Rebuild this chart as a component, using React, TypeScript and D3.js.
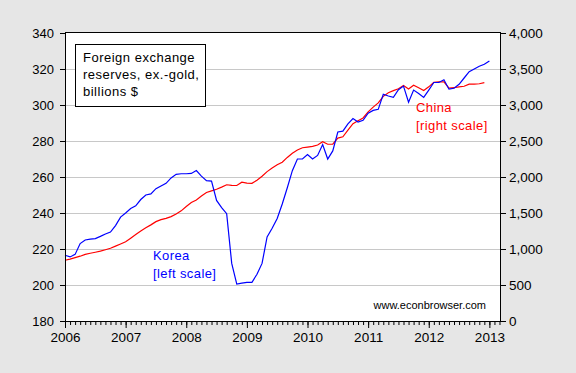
import { useEffect, useRef } from 'react';
import * as d3 from 'd3';

// monthly data, starting 2006M01
const START_YEAR = 2006;

// Korea FX reserves ex-gold, billions $ (left scale)
const korea = [
  216.5, 215.6, 217.0, 223.0, 225.0, 225.5, 225.8, 227.0, 228.3, 229.4, 233.0, 237.7,
  240.0, 242.5, 244.0, 247.5, 250.0, 250.6, 253.5, 255.0, 256.5, 259.5, 261.5, 261.8,
  261.8, 262.0, 263.6, 260.5, 258.0, 257.7, 247.0, 243.0, 239.6, 212.0, 200.5, 201.0,
  201.5, 201.5, 206.0, 212.0, 226.7, 231.5, 237.0, 245.0, 254.0, 263.5, 270.0, 270.0,
  272.5, 270.0, 272.0, 278.0, 270.0, 274.5, 285.0, 285.5, 289.5, 292.5, 290.5, 291.5,
  295.5, 297.0, 297.6, 306.0, 305.0, 304.3, 308.5, 310.5, 301.5, 308.3, 306.4, 304.2,
  308.3, 312.5, 312.5, 314.0, 308.8, 309.3, 311.5, 315.0, 318.5, 320.0, 321.5, 322.6,
  324.5,
];

// China FX reserves ex-gold, billions $ (right scale)
const china = [
  844, 860, 880, 900, 925, 941, 955, 970, 990, 1010, 1040, 1070,
  1100, 1150, 1200, 1250, 1295, 1335, 1380, 1408, 1425, 1450, 1485, 1530,
  1590, 1645, 1680, 1735, 1785, 1808, 1830, 1860, 1892, 1885, 1882, 1928,
  1914, 1912, 1955, 2010, 2075, 2125, 2170, 2205, 2272, 2330, 2375, 2406,
  2416, 2426, 2445, 2490, 2455, 2456, 2540, 2558, 2650, 2740, 2782, 2820,
  2905, 2970, 3030, 3120, 3170, 3200, 3225, 3272, 3222, 3275, 3240, 3200,
  3252, 3315, 3322, 3322, 3235, 3240, 3252, 3260, 3290, 3290, 3295, 3310,
];

const leftTicks = [180, 200, 220, 240, 260, 280, 300, 320, 340];
const rightTicks = [0, 500, 1000, 1500, 2000, 2500, 3000, 3500, 4000];
const yearLabels = [2006, 2007, 2008, 2009, 2010, 2011, 2012, 2013];
const legendLines = ['Foreign exchange', 'reserves, ex.-gold,', 'billions $'];

const FONT = '"Liberation Sans", Arial, sans-serif';

export default function App() {
  const svgRef = useRef<SVGSVGElement>(null);

  useEffect(() => {
    if (!svgRef.current) return;
    const svg = d3.select(svgRef.current);
    svg.selectAll('*').remove();

    const left = 65;
    const right = 500;
    const top = 33;
    const bottom = 321;

    const x = d3.scaleLinear().domain([0, 86.1]).range([left, right]);
    const yL = d3.scaleLinear().domain([180, 340]).range([bottom, top]);
    const yR = d3.scaleLinear().domain([0, 4000]).range([bottom, top]);

    svg.append('rect').attr('width', 576).attr('height', 373).attr('fill', '#e6e6e6');
    svg.append('rect')
      .attr('x', left + 0.5)
      .attr('y', 32.5)
      .attr('width', right - left)
      .attr('height', bottom - 32)
      .attr('fill', '#fff');

    // gridlines
    svg.append('g')
      .selectAll('line')
      .data(leftTicks.slice(1, -1))
      .join('line')
      .attr('x1', left + 1)
      .attr('x2', right)
      .attr('y1', (d) => yL(d) + 0.5)
      .attr('y2', (d) => yL(d) + 0.5)
      .attr('stroke', '#c8c8c8')
      .attr('stroke-width', 1);

    // lines
    const lineK = d3.line<number>().x((_, i) => x(i)).y((d) => yL(d));
    const lineC = d3.line<number>().x((_, i) => x(i)).y((d) => yR(d));

    svg.append('path')
      .datum(china)
      .attr('d', lineC)
      .attr('fill', 'none')
      .attr('stroke', '#ff0000')
      .attr('stroke-width', 1.2);

    svg.append('path')
      .datum(korea)
      .attr('d', lineK)
      .attr('fill', 'none')
      .attr('stroke', '#0000ff')
      .attr('stroke-width', 1.2);

    // frame
    svg.append('rect')
      .attr('x', left + 0.5)
      .attr('y', 32.5)
      .attr('width', right - left)
      .attr('height', bottom - 32)
      .attr('fill', 'none')
      .attr('stroke', '#000')
      .attr('stroke-width', 1);

    const styleAxis = (g: d3.Selection<SVGGElement, unknown, null, undefined>, size: string) => {
      g.select('.domain').remove();
      g.selectAll('line').attr('stroke', '#000');
      g.selectAll('text')
        .attr('fill', '#000')
        .style('font-family', FONT)
        .style('font-size', size);
    };

    svg.append('g')
      .attr('transform', `translate(${left},0)`)
      .call(d3.axisLeft(yL).tickValues(leftTicks).tickSize(5).tickPadding(6).tickFormat(d3.format('d')))
      .call((g) => styleAxis(g, '13px'));

    svg.append('g')
      .attr('transform', `translate(${right + 1},0)`)
      .call(d3.axisRight(yR).tickValues(rightTicks).tickSize(5).tickPadding(3).tickFormat(d3.format(',')))
      .call((g) => styleAxis(g, '13.5px'));

    svg.append('g')
      .attr('transform', `translate(0,${bottom})`)
      .call(d3.axisBottom(x).tickValues(d3.range(0, 87)).tickSize(4).tickFormat(() => ''))
      .call((g) => styleAxis(g, '13px'));

    svg.append('g')
      .attr('transform', `translate(0,${bottom})`)
      .call(
        d3.axisBottom(x)
          .tickValues(yearLabels.map((yr) => (yr - START_YEAR) * 12))
          .tickSize(7)
          .tickPadding(4)
          .tickFormat((d) => String(START_YEAR + (d as number) / 12))
      )
      .call((g) => styleAxis(g, '13.5px'));

    // legend box
    svg.append('rect')
      .attr('x', 75.5)
      .attr('y', 44.5)
      .attr('width', 130)
      .attr('height', 62)
      .attr('fill', '#fff')
      .attr('stroke', '#000');

    svg.append('g')
      .selectAll('text')
      .data(legendLines)
      .join('text')
      .attr('x', 83)
      .attr('y', (_, i) => 62 + i * 17)
      .attr('fill', '#000')
      .style('font-family', FONT)
      .style('font-size', '13px')
      .style('letter-spacing', '0.5px')
      .text((d) => d);

    const label = (lines: string[], lx: number, ly: number, color: string) => {
      svg.append('g')
        .selectAll('text')
        .data(lines)
        .join('text')
        .attr('x', lx)
        .attr('y', (_, i) => ly + i * 18)
        .attr('fill', color)
        .style('font-family', FONT)
        .style('font-size', '13px')
        .style('letter-spacing', '0.4px')
        .text((d) => d);
    };
    label(['Korea', '[left scale]'], 153, 260, '#0000ff');
    label(['China', '[right scale]'], 416, 112, '#ff0000');

    svg.append('text')
      .attr('x', 486)
      .attr('y', 309)
      .attr('text-anchor', 'end')
      .attr('fill', '#000')
      .style('font-family', FONT)
      .style('font-size', '11px')
      .text('www.econbrowser.com');
  }, []);

  return (
    <div style={{ position: 'fixed', left: 0, top: 0 }}>
      <svg ref={svgRef} width={576} height={373} style={{ display: 'block' }} />
    </div>
  );
}
